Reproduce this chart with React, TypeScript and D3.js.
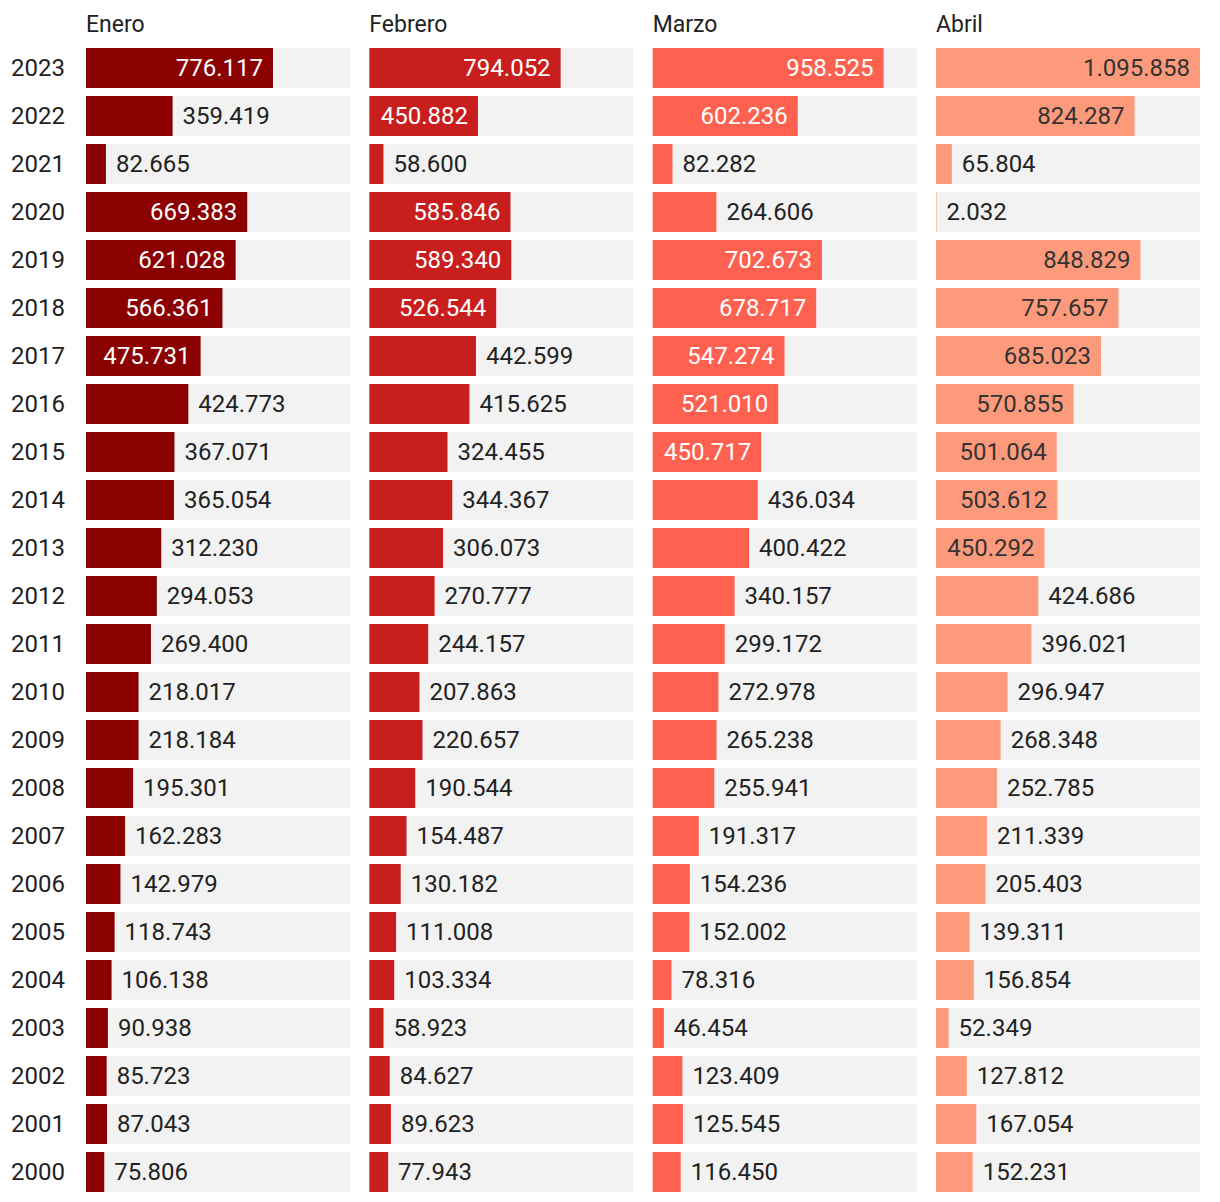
import React from "react";
import * as d3 from "d3";

const years = [2023, 2022, 2021, 2020, 2019, 2018, 2017, 2016, 2015, 2014, 2013, 2012, 2011, 2010, 2009, 2008, 2007, 2006, 2005, 2004, 2003, 2002, 2001, 2000];
const months = ["Enero", "Febrero", "Marzo", "Abril"];
const enero = [776117, 359419, 82665, 669383, 621028, 566361, 475731, 424773, 367071, 365054, 312230, 294053, 269400, 218017, 218184, 195301, 162283, 142979, 118743, 106138, 90938, 85723, 87043, 75806];
const febrero = [794052, 450882, 58600, 585846, 589340, 526544, 442599, 415625, 324455, 344367, 306073, 270777, 244157, 207863, 220657, 190544, 154487, 130182, 111008, 103334, 58923, 84627, 89623, 77943];
const marzo = [958525, 602236, 82282, 264606, 702673, 678717, 547274, 521010, 450717, 436034, 400422, 340157, 299172, 272978, 265238, 255941, 191317, 154236, 152002, 78316, 46454, 123409, 125545, 116450];
const abril = [1095858, 824287, 65804, 2032, 848829, 757657, 685023, 570855, 501064, 503612, 450292, 424686, 396021, 296947, 268348, 252785, 211339, 205403, 139311, 156854, 52349, 127812, 167054, 152231];
const series = [enero, febrero, marzo, abril];
const colors = ["#8b0000", "#c81e1e", "#ff6150", "#fe9a7c"];
const insideTextColors = ["#ffffff", "#ffffff", "#ffffff", "#333333"];

const W = 1220;
const H = 1202;
const left = 86;
const right = 1200;
const gap = 19.33;
const panelW = (right - left - gap * 3) / 4;
const fontFamily = "Roboto, sans-serif";

const locale = d3.formatLocale({ decimal: ",", thousands: ".", grouping: [3], currency: ["", "€"] });
const fmt = locale.format(",d");

export default function App() {
  const maxV = d3.max(series.flat()) as number;
  const x = d3.scaleLinear().domain([0, maxV]).range([0, panelW]);
  const y = d3
    .scaleBand<number>()
    .domain(years)
    .range([44, 44 + years.length * 48])
    .paddingInner(1 / 6)
    .paddingOuter(1 / 12);
  const bh = y.bandwidth();

  return (
    <svg
      width={W}
      height={H}
      style={{ position: "absolute", left: 0, top: 0, background: "#fff" }}
      fontFamily={fontFamily}
    >
      {years.map((yr) => (
        <text
          key={yr}
          x={left - 21}
          y={(y(yr) as number) + bh / 2}
          dy="0.35em"
          textAnchor="end"
          fontSize={24}
          fill="#222"
        >
          {yr}
        </text>
      ))}
      {months.map((m, mi) => {
        const px = left + mi * (panelW + gap);
        const vals = series[mi];
        return (
          <g key={m} transform={`translate(${px},0)`}>
            <text x={0} y={32} fontSize={23} fill="#222">
              {m}
            </text>
            {years.map((yr, i) => {
              const v = vals[i];
              const yy = y(yr) as number;
              const w = x(v);
              const inside = w > 108;
              return (
                <g key={yr}>
                  <rect x={0} y={yy} width={panelW} height={bh} fill="#f2f2f2" />
                  <rect x={0} y={yy} width={w} height={bh} fill={colors[mi]} />
                  <text
                    x={inside ? w - 10 : w + 10}
                    y={yy + bh / 2}
                    dy="0.35em"
                    textAnchor={inside ? "end" : "start"}
                    fontSize={24}
                    fill={inside ? insideTextColors[mi] : "#222"}
                  >
                    {fmt(v)}
                  </text>
                </g>
              );
            })}
          </g>
        );
      })}
    </svg>
  );
}
